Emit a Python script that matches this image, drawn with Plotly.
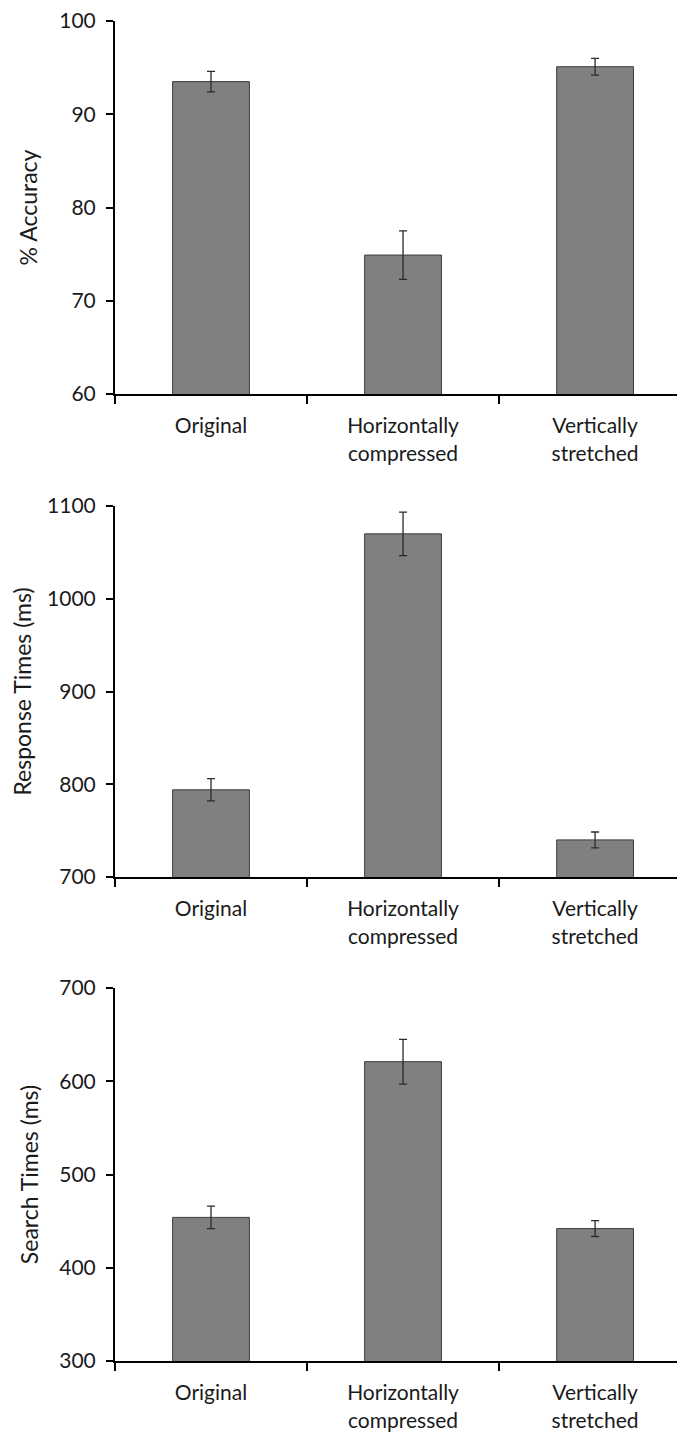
import plotly.graph_objects as go
from plotly.subplots import make_subplots

categories = ["Original", "Horizontally<br>compressed", "Vertically<br>stretched"]

accuracy = [93.5, 74.9, 95.1]
accuracy_err = [1.1, 2.6, 0.9]

response_times = [794, 1070, 740]
response_err = [12, 23.5, 8.5]

search_times = [454, 621, 442]
search_err = [12, 24, 8.5]

y_titles = ["% Accuracy", "Response Times (ms)", "Search Times (ms)"]
y_ranges = [[60, 100], [700, 1100], [300, 700]]
y_dticks = [10, 100, 100]
title_standoffs = [15, 26, 14]

W, H = 685, 1441
# pixel positions of plot areas (top, bottom) in figure coords (page adds 8px body margin)
panels_px = [(13, 386), (498, 869), (980, 1353)]
x_left_px = 107

fig = make_subplots(rows=3, cols=1)

series = [(accuracy, accuracy_err), (response_times, response_err), (search_times, search_err)]
for i, (vals, errs) in enumerate(series):
    fig.add_trace(
        go.Bar(
            x=categories,
            y=vals,
            width=0.4,
            marker=dict(color="#808080", line=dict(color="#3c3c3c", width=1)),
            error_y=dict(type="data", array=errs, visible=True, color="#2a2a2a",
                         thickness=1.3, width=4),
            showlegend=False,
        ),
        row=i + 1, col=1,
    )

font_family = "Lato, Open Sans, sans-serif"
for i in range(3):
    top, bot = panels_px[i]
    ydom = [1 - bot / H, 1 - top / H]
    xname = "xaxis" if i == 0 else f"xaxis{i+1}"
    yname = "yaxis" if i == 0 else f"yaxis{i+1}"
    fig.layout[xname].update(
        domain=[x_left_px / W, 1.0],
        type="category",
        range=[-0.5, 2.51],
        showline=True, linecolor="black", linewidth=2,
        ticks="outside", tickson="boundaries", ticklen=8, tickwidth=2, tickcolor="black",
        showgrid=False, zeroline=False,
        tickfont=dict(family=font_family, size=21, color="#1a1a1a"),
        ticklabelstandoff=12,
        ticklabeloverflow="allow",
        automargin=False,
    )
    fig.layout[yname].update(
        domain=ydom,
        range=y_ranges[i],
        dtick=y_dticks[i],
        showline=True, linecolor="black", linewidth=2,
        ticks="outside", ticklen=7, tickwidth=2, tickcolor="black",
        showgrid=False, zeroline=False,
        tickfont=dict(family=font_family, size=21, color="#1a1a1a"),
        ticklabelstandoff=6,
        ticklabeloverflow="allow",
        title=dict(text=y_titles[i], font=dict(family=font_family, size=23, color="#1a1a1a"),
                   standoff=title_standoffs[i]),
        automargin=False,
    )

fig.update_layout(
    width=W, height=H,
    margin=dict(l=0, r=0, t=0, b=0),
    plot_bgcolor="white", paper_bgcolor="white",
    bargap=0.6,
)

fig.write_html("out.html")
